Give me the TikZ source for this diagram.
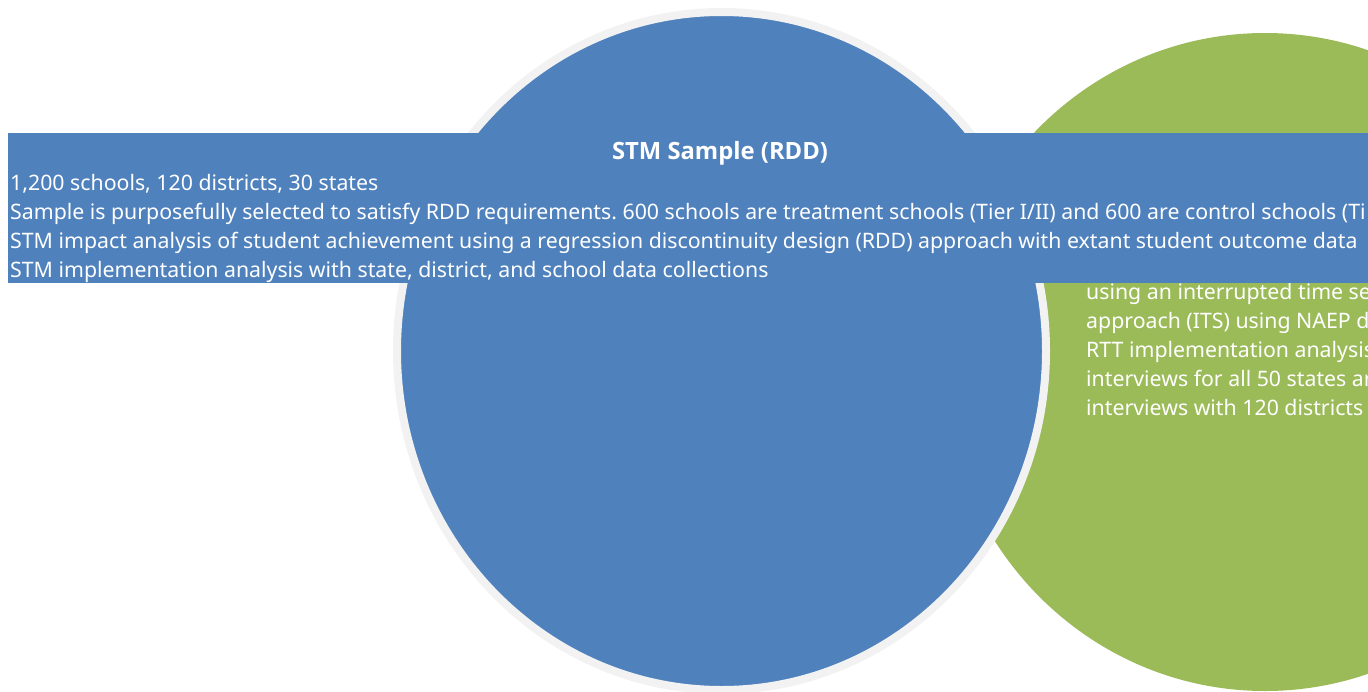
\documentclass[tikz,border=0pt]{standalone}
\usepackage{fontspec}
\setmainfont{Noto Sans}
\newfontfamily\ttlfont{Open Sans}
\frenchspacing
\definecolor{stmblue}{HTML}{4F81BD}
\definecolor{rttgreen}{HTML}{9BBB59}
\definecolor{ringgray}{HTML}{F2F2F2}
\begin{document}
\begin{tikzpicture}[x=1pt,y=-1pt,
  txt/.style={font=\fontsize{21.3}{29}\selectfont, text=white, inner sep=0pt, anchor=base west},
  ttl/.style={font=\ttlfont\fontsize{23.8}{29}\selectfont\bfseries, text=white, inner sep=0pt, anchor=base}]
\useasboundingbox (0,0) rectangle (1368,691);
\clip (0,0) rectangle (1368,691);
% green circle (RTT)
\fill[rttgreen] (1265,362) ellipse [x radius=322, y radius=329];
\node[txt] (g1) at (1086,299) {using an interrupted time se};
\node[txt] (g2) at (1086,328) {approach (ITS) using NAEP d};
\node[txt] (g3) at (1086,357) {RTT implementation analysis};
\node[txt] (g4) at (1086,386) {interviews for all 50 states ar};
\node[txt] (g5) at (1086,415) {interviews with 120 districts};
% blue circle (STM)
\draw[ringgray, line width=8pt, fill=stmblue] (721.5,351) ellipse [x radius=324.5, y radius=339];
% banner
\fill[stmblue] (8,133) rectangle (1368,283);
\node[ttl] (title) at (720,159) {STM Sample (RDD)};
\node[txt] (l1) at (10,190) {1,200 schools, 120 districts, 30 states};
\node[txt] (l2) at (10,219) {Sample is purposefully selected to satisfy RDD requirements. 600 schools are treatment schools (Tier I/II) and 600 are control schools (Ti};
\node[txt] (l3) at (10,248) {STM impact analysis of student achievement using a regression discontinuity design (RDD) approach with extant student outcome data};
\node[txt] (l4) at (10,277) {STM implementation analysis with state, district, and school data collections};
\end{tikzpicture}
\end{document}
